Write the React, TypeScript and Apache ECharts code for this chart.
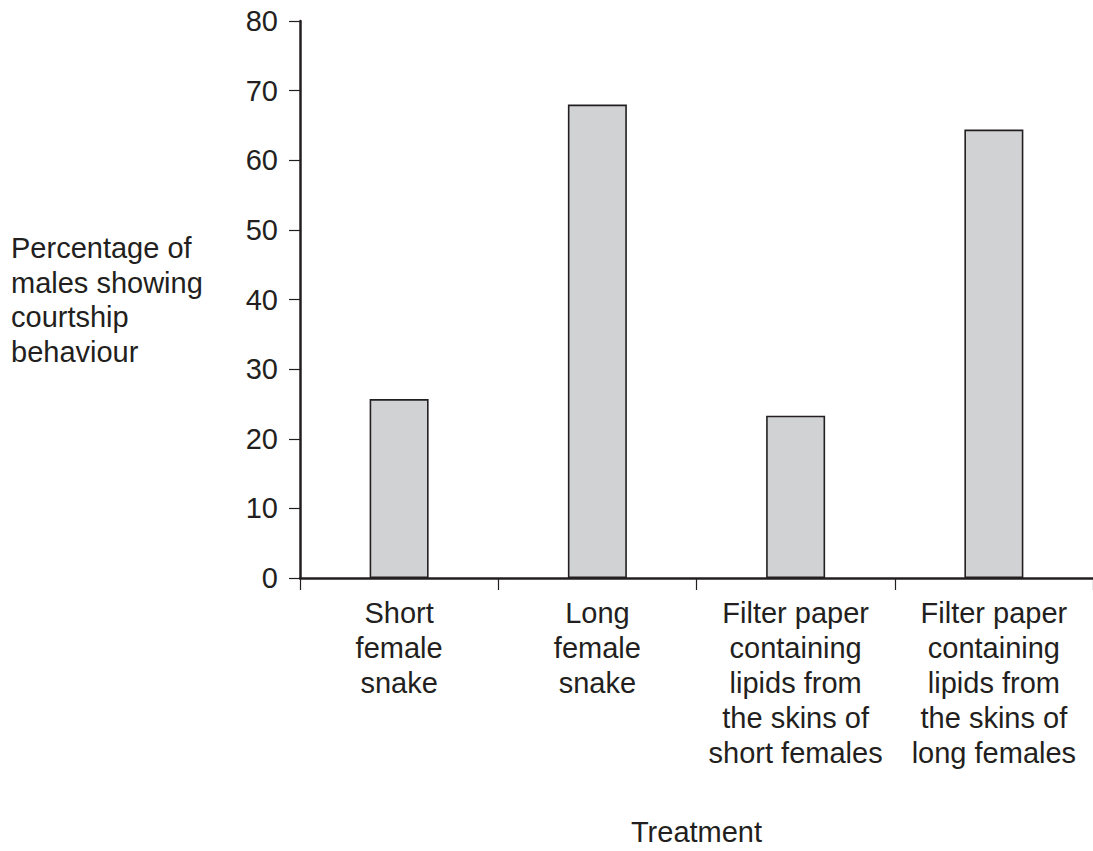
import React, { useEffect, useRef } from "react";
import * as echarts from "echarts";

const categories = [
  "Short\nfemale\nsnake",
  "Long\nfemale\nsnake",
  "Filter paper\ncontaining\nlipids from\nthe skins of\nshort females",
  "Filter paper\ncontaining\nlipids from\nthe skins of\nlong females",
];
const percentages = [25.7, 68.0, 23.3, 64.4];
const yTitle = "Percentage of\nmales showing\ncourtship\nbehaviour";
const xTitle = "Treatment";

const INK = "#231f20";
const FONT = "'Liberation Sans', Arial, Helvetica, sans-serif";
const FS = 29;

export default function App() {
  const ref = useRef<HTMLDivElement>(null);
  useEffect(() => {
    document.body.style.margin = "0";
    if (!ref.current) return;
    const chart = echarts.init(ref.current, undefined, { renderer: "svg" });
    chart.setOption({
      animation: false,
      backgroundColor: "#ffffff",
      textStyle: { fontFamily: FONT },
      grid: { left: 300, right: 0, top: 21, bottom: 271, containLabel: false },
      graphic: [
        {
          type: "text",
          left: 11,
          top: 231,
          style: {
            text: yTitle,
            fontSize: FS,
            lineHeight: 34.5,
            fontFamily: FONT,
            fill: INK,
            align: "left",
          },
        },
      ],
      xAxis: {
        type: "category",
        data: categories,
        boundaryGap: true,
        name: xTitle,
        nameLocation: "middle",
        nameGap: 239,
        nameTextStyle: { fontSize: FS, color: INK, fontFamily: FONT },
        axisLine: { show: true, lineStyle: { color: INK, width: 2.5 } },
        axisTick: { show: true, length: 12, alignWithLabel: false, lineStyle: { color: INK, width: 1.2 } },
        axisLabel: {
          interval: 0,
          margin: 17,
          fontSize: FS,
          lineHeight: 35,
          color: INK,
          fontFamily: FONT,
          align: "center",
        },
        splitLine: { show: false },
      },
      yAxis: {
        type: "value",
        min: 0,
        max: 80,
        interval: 10,
        axisLine: { show: true, lineStyle: { color: INK, width: 2.5 } },
        axisTick: { show: true, length: 11, inside: false, lineStyle: { color: INK, width: 1.2 } },
        axisLabel: { margin: 22, fontSize: FS, color: INK, fontFamily: FONT },
        splitLine: { show: false },
      },
      series: [
        {
          type: "bar",
          data: percentages,
          barWidth: 59,
          itemStyle: { color: "#d1d2d4", borderColor: INK, borderWidth: 1.6 },
          silent: true,
        },
      ],
    });
    return () => chart.dispose();
  }, []);
  return <div ref={ref} style={{ width: 1093, height: 851 }} />;
}
